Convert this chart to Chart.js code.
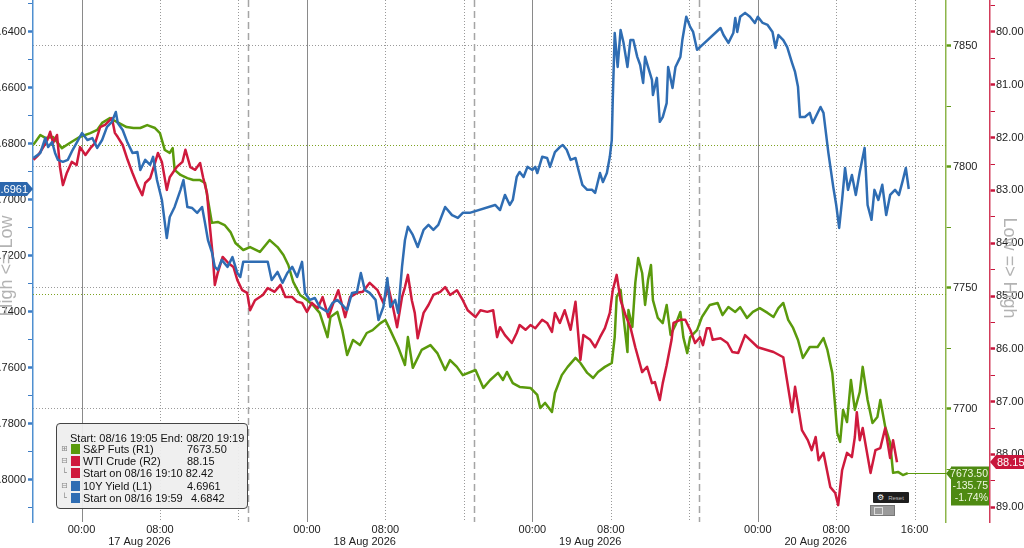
<!DOCTYPE html>
<html>
<head>
<meta charset="utf-8">
<script src="https://cdn.jsdelivr.net/npm/chart.js@4.4.1/dist/chart.umd.min.js"></script>
<style>
  html, body { margin: 0; padding: 0; width: 1024px; height: 548px; overflow: hidden; background: #fff; }
  body { font-family: "Liberation Sans", Arial, sans-serif; position: relative; }
  #wrap { position: absolute; left: -14px; top: 0; width: 1038px; height: 548px; }
  #legend { position: absolute; left: 56px; top: 423px; width: 190px; height: 84px;
    background: rgba(238, 238, 238, 0.94); border: 1px solid #444; border-radius: 4px;
    font-size: 11px; color: #111; }
  #legend div { position: absolute; white-space: nowrap; line-height: 12px; height: 12px; }
  #legend .sw { width: 9px; height: 10px; }
  #legend .tr { font-family: "DejaVu Sans", sans-serif; font-size: 8px; color: #888; }
  #reset { position: absolute; left: 873px; top: 492px; width: 36px; height: 11px; background: #1e1e1e;
    color: #bbb; font-size: 6px; line-height: 11px; border-radius: 1px; }
  #reset span { font-family: "DejaVu Sans", sans-serif; color: #fff; font-size: 8px; margin: 0 4px 0 4px; }
  #zoomsel { position: absolute; left: 870px; top: 505px; width: 23px; height: 9px; background: #9a9a9a;
    border: 1px solid #777; }
  #zoomsel div { position: absolute; left: 3px; top: 1px; width: 7px; height: 6px; border: 1px solid #ddd; }
</style>
</head>
<body>
<div id="wrap"><canvas id="chart"></canvas></div>

<div id="legend">
  <div style="left:13px;top:8px;">Start: 08/16 19:05 End: 08/20 19:19</div>
  <div class="tr" style="left:4px;top:19px;">⊞</div>
  <div class="sw" style="left:14px;top:20px;background:#5a9a0c;"></div>
  <div style="left:26px;top:19px;">S&amp;P Futs (R1)</div>
  <div style="left:130px;top:19px;">7673.50</div>
  <div class="tr" style="left:4px;top:31px;">⊟</div>
  <div class="sw" style="left:14px;top:32px;background:#cf1a3d;"></div>
  <div style="left:26px;top:31px;">WTI Crude (R2)</div>
  <div style="left:130px;top:31px;">88.15</div>
  <div class="tr" style="left:5px;top:43px;">└</div>
  <div class="sw" style="left:14px;top:44px;background:#cf1a3d;"></div>
  <div style="left:26px;top:43px;">Start on 08/16 19:10 82.42</div>
  <div class="tr" style="left:4px;top:56px;">⊟</div>
  <div class="sw" style="left:14px;top:57px;background:#2f6db3;"></div>
  <div style="left:26px;top:56px;">10Y Yield (L1)</div>
  <div style="left:130px;top:56px;">4.6961</div>
  <div class="tr" style="left:5px;top:68px;">└</div>
  <div class="sw" style="left:14px;top:69px;background:#2f6db3;"></div>
  <div style="left:26px;top:68px;">Start on 08/16 19:59</div>
  <div style="left:134px;top:68px;">4.6842</div>
</div>
<div id="reset"><span>⚙</span>Reset</div>
<div id="zoomsel"><div></div></div>

<script>
// time axis is in trading hours since 00:00 17 Aug, with the 17:00-18:00 break removed (23 h per day)
const xMin = -4.95;
const xMax = 88.2;

const xTickPos = [0, 5.9, 8, 23, 28.9, 31, 46, 51.9, 54, 69, 74.9, 77, 85];
const xTickLabels = ['00:00', ['', '17 Aug 2026'], '08:00', '00:00', ['', '18 Aug 2026'], '08:00',
  '00:00', ['', '19 Aug 2026'], '08:00', '00:00', ['', '20 Aug 2026'], '08:00', '16:00'];

const dayLines = [0, 23, 46, 69];
const hourLines = [8, 16, 31, 39, 54, 62, 77, 85];
const breakLines = [17, 40, 63];

const yieldTicks = [4.64, 4.66, 4.68, 4.70, 4.72, 4.74, 4.76, 4.78, 4.80];
const yieldMinor = [4.63, 4.65, 4.67, 4.69, 4.71, 4.73, 4.75, 4.77, 4.79, 4.81];
const spTicks = [7700, 7750, 7800, 7850];
const spMinor = [7675, 7725, 7775, 7825];
const wtiTicks = [80, 81, 82, 83, 84, 85, 86, 87, 88, 89];
const wtiMinor = [79.5, 80.5, 81.5, 82.5, 83.5, 84.5, 85.5, 86.5, 87.5, 88.5];

const spRefLines = [7809.25, 7747.5];

// S&P Futs (R1)
const spTime = [
  -4.9, -4.2, -3.7, -2.9, -2.0, -1.2, -0.2, 0.9, 1.6, 2.1,
  2.9, 3.6, 4.6, 5.3, 6.0, 6.7, 7.5, 8.0, 8.5, 9.0,
  9.3, 9.5, 10.1, 10.8, 11.4, 12.1, 12.6, 12.9, 13.3, 13.9,
  14.6, 15.2, 15.7, 16.5, 17.2, 18.2, 19.2, 20.0, 20.6, 21.1,
  21.6, 22.3, 23.0, 23.6, 24.3, 25.1, 25.4, 26.1, 26.6, 27.1,
  27.7, 28.4, 29.1, 29.7, 30.5, 31.0, 31.5, 32.3, 33.0, 33.3,
  33.8, 34.7, 35.6, 36.3, 37.1, 37.6, 38.3, 38.9, 40.2, 41.0,
  41.7, 42.5, 43.0, 43.4, 44.0, 44.7, 45.8, 46.5, 46.8, 47.3,
  48.0, 48.3, 49.0, 49.6, 50.4, 50.9, 51.6, 52.2, 52.7, 53.4,
  54.1, 54.4, 54.6, 55.0, 55.3, 55.7, 55.8, 56.2, 56.5, 56.8,
  57.2, 57.5, 57.8, 58.1, 58.3, 58.8, 59.3, 59.7, 60.1, 60.6,
  61.1, 61.4, 61.8, 62.1, 62.8, 63.3, 64.1, 64.9, 65.4, 66.0,
  66.7, 67.2, 67.9, 68.5, 69.2, 70.0, 70.6, 71.1, 71.6, 72.1,
  72.6, 73.1, 73.6, 74.3, 75.1, 75.7, 76.1, 76.6, 76.9, 77.1,
  77.4, 77.7, 78.1, 78.5, 78.9, 79.4, 79.7, 80.2, 80.7, 81.2,
  81.5, 82.0, 82.5, 82.8, 83.3, 83.8, 84.3
];
const spValues = [
  7809.25, 7813.2, 7812, 7812.4, 7807.8, 7809.9, 7812.4, 7814, 7815.3, 7818.2,
  7820.2, 7818.6, 7816.5, 7816.1, 7816.1, 7817.3, 7816.1, 7814, 7807, 7805.8,
  7807.8, 7798.8, 7796.7, 7795.4, 7794.6, 7794.6, 7793.4, 7786.4, 7776.9, 7777.3,
  7776, 7773.1, 7768.6, 7765.7, 7766.9, 7764.9, 7769.8, 7766.9, 7763.6, 7759.5,
  7752.5, 7747.1, 7745, 7743, 7739.7, 7729.7, 7738, 7740.1, 7732.6, 7722.3,
  7728.5, 7726.4, 7731.4, 7732.6, 7735.5, 7736.8, 7732.6, 7725.6, 7718.2, 7729.7,
  7717, 7724.4, 7726.4, 7723.1, 7716.1, 7720.2, 7717.4, 7714, 7716.1, 7708.7,
  7712, 7714.9, 7712, 7715.3, 7710.7, 7709.1, 7708.7, 7705.8, 7700.4, 7702.5,
  7698.8, 7706.6, 7714, 7717.4, 7721.1, 7719, 7714.9, 7712.8, 7715.3, 7717.4,
  7719, 7729.7, 7746.3, 7749.2, 7738, 7723.5, 7740.9, 7733.9, 7752.1, 7762.4,
  7756.2, 7743, 7753.3, 7759.5, 7745, 7737.6, 7735.5, 7743, 7730.6, 7734.7,
  7740.1, 7729.7, 7723.1, 7729.7, 7732.6, 7738, 7743, 7743.8, 7738.8, 7742.1,
  7740.1, 7742.1, 7737.6, 7740.1, 7741.7, 7739.7, 7738, 7741.7, 7743.8, 7736.8,
  7733.5, 7728.5, 7721.1, 7725.6, 7725.6, 7729.3, 7724.4, 7714.9, 7700.8, 7690.1,
  7686.4, 7699.6, 7694.6, 7712, 7699.6, 7707, 7717.4, 7703.7, 7694.2, 7696.7,
  7703.7, 7692.6, 7686, 7673.6, 7674, 7672.7, 7673.5
];

// WTI Crude (R2)
const wtiTime = [
  -4.9, -4.4, -3.9, -3.5, -3.2, -2.9, -2.5, -2.2, -1.9, -1.5,
  -1.0, -0.5, -0.15, 0.4, 0.9, 1.4, 1.9, 2.4, 3.1, 3.4,
  3.7, 4.2, 4.7, 5.2, 5.7, 6.2, 6.5, 7.0, 7.5, 7.8,
  8.2, 8.7, 9.0, 9.7, 10.3, 10.6, 11.1, 11.6, 12.1, 12.4,
  12.8, 13.1, 13.4, 13.6, 13.9, 14.4, 15.0, 15.5, 15.9, 16.4,
  16.9, 17.2, 17.7, 18.5, 19.0, 19.7, 20.3, 20.8, 21.5, 22.0,
  22.5, 23.0, 23.5, 24.1, 24.6, 25.2, 25.7, 26.2, 26.9, 27.4,
  28.1, 28.7, 29.4, 30.2, 30.8, 31.3, 31.8, 32.2, 32.7, 33.0,
  33.3, 33.7, 34.0, 34.3, 34.9, 35.4, 35.9, 36.6, 37.1, 37.6,
  38.3, 38.9, 39.4, 40.2, 40.7, 41.4, 42.0, 42.4, 42.7, 43.2,
  43.9, 44.4, 44.7, 45.3, 45.8, 46.3, 47.0, 47.5, 48.0, 48.3,
  48.8, 49.3, 49.9, 50.4, 50.9, 51.2, 51.9, 52.4, 52.9, 53.4,
  53.9, 54.2, 54.6, 55.0, 55.5, 56.0, 56.5, 57.2, 57.7, 58.2,
  58.5, 59.0, 59.3, 59.7, 60.2, 60.4, 61.1, 61.6, 62.1, 62.6,
  63.1, 63.4, 63.8, 64.1, 64.4, 65.2, 65.9, 66.4, 67.0, 67.7,
  69.0, 70.6, 71.6, 72.5, 72.8, 73.5, 74.1, 74.5, 74.9, 75.2,
  75.7, 76.4, 76.9, 77.2, 77.6, 78.1, 78.6, 78.9, 79.1, 79.4,
  79.7, 80.5, 81.0, 81.5, 82.0, 82.5, 82.8, 83.2
];
const wtiValues = [
  82.42, 82.33, 82.18, 82.05, 81.89, 82.10, 81.95, 82.56, 82.90, 82.67,
  82.46, 82.52, 82.18, 82.33, 82.20, 82.10, 81.80, 81.76, 81.63, 81.91,
  81.99, 82.14, 82.42, 82.67, 82.90, 83.09, 82.86, 82.77, 82.48, 82.29,
  82.46, 82.99, 82.75, 82.56, 82.46, 82.23, 82.56, 82.61, 82.48, 82.75,
  83.05, 83.69, 84.26, 84.79, 84.56, 84.26, 84.38, 84.45, 84.70, 84.89,
  84.94, 85.27, 85.08, 84.98, 84.85, 84.92, 84.79, 85.02, 85.02, 85.11,
  85.13, 85.30, 85.13, 85.23, 85.02, 85.40, 85.13, 84.89, 85.40, 85.02,
  84.94, 84.92, 84.75, 84.89, 85.13, 84.83, 85.23, 85.59, 85.02, 84.83,
  84.60, 85.08, 85.32, 85.80, 85.32, 85.17, 84.98, 84.92, 84.83, 84.98,
  84.89, 85.08, 85.27, 85.40, 85.27, 85.30, 85.27, 85.78, 85.59, 85.74,
  85.89, 85.70, 85.55, 85.64, 85.55, 85.61, 85.45, 85.51, 85.68, 85.32,
  85.51, 85.27, 85.64, 85.11, 86.21, 85.74, 85.83, 85.97, 85.78, 85.61,
  85.32, 84.89, 84.60, 85.08, 85.36, 85.59, 85.97, 86.44, 86.34, 86.65,
  86.63, 86.97, 86.65, 86.31, 85.83, 85.51, 85.45, 85.45, 85.64, 85.89,
  85.78, 85.93, 85.61, 85.61, 85.83, 85.80, 85.89, 86.06, 86.08, 85.74,
  85.97, 86.06, 86.16, 87.20, 86.72, 87.54, 87.73, 87.92, 87.67, 88.11,
  87.97, 88.62, 88.73, 88.96, 88.30, 87.97, 88.05, 87.67, 87.20, 87.73,
  87.50, 88.35, 87.92, 87.88, 87.50, 88.07, 87.73, 88.15
];

// 10Y Yield (L1)
const yieldTime = [
  -4.9, -4.2, -3.7, -3.4, -3.0, -2.7, -2.4, -1.9, -1.4, -0.9,
  -0.5, 0.05, 0.6, 1.1, 1.6, 2.1, 2.6, 3.1, 3.5, 3.7,
  4.2, 4.7, 5.2, 5.7, 6.0, 6.5, 7.0, 7.3, 7.7, 8.2,
  8.7, 9.0, 9.5, 10.1, 10.4, 10.8, 11.3, 11.8, 12.3, 12.6,
  12.9, 13.3, 13.6, 13.9, 14.3, 14.9, 15.4, 15.9, 16.2, 16.5,
  19.0, 19.4, 20.0, 20.5, 21.0, 21.5, 22.0, 22.5, 22.8, 23.3,
  23.8, 24.3, 25.1, 25.6, 26.1, 26.6, 27.1, 27.6, 28.1, 28.5,
  28.9, 29.4, 30.0, 30.3, 30.8, 31.2, 31.5, 32.0, 32.3, 32.7,
  33.0, 33.3, 33.8, 34.3, 34.9, 35.4, 35.9, 36.4, 37.1, 37.8,
  38.4, 38.9, 39.6, 42.2, 42.7, 43.2, 43.7, 44.0, 44.4, 44.7,
  45.1, 45.5, 46.0, 46.3, 46.5, 47.0, 47.5, 47.8, 48.3, 48.8,
  49.1, 49.5, 49.9, 50.4, 50.7, 51.1, 51.6, 52.1, 52.4, 52.9,
  53.2, 53.6, 53.9, 54.1, 54.2, 54.4, 54.7, 55.0, 55.3, 55.7,
  56.0, 56.3, 56.7, 57.0, 57.3, 57.5, 57.8, 58.2, 58.3, 58.7,
  59.0, 59.3, 59.7, 59.85, 60.3, 60.6, 61.1, 61.3, 61.7, 62.1,
  62.4, 62.8, 65.2, 65.5, 66.0, 66.5, 66.7, 66.9, 67.2, 67.7,
  68.2, 68.7, 69.0, 69.5, 70.0, 70.5, 70.8, 71.1, 71.6, 72.0,
  72.5, 72.8, 73.1, 73.3, 73.8, 74.3, 74.6, 75.4, 75.7, 76.2,
  76.7, 77.0, 77.3, 77.6, 77.9, 78.2, 78.6, 79.0, 79.4, 79.9,
  80.2, 80.6, 80.9, 81.3, 81.7, 82.1, 82.5, 83.0, 83.4, 83.8,
  84.1, 84.4
];
const yieldValues = [
  4.6850, 4.6832, 4.6779, 4.6811, 4.6793, 4.6832, 4.6857, 4.6864, 4.6857, 4.6821,
  4.6796, 4.6761, 4.6786, 4.6779, 4.6814, 4.6786, 4.6739, 4.6721, 4.6686, 4.6725,
  4.6750, 4.6796, 4.6832, 4.6829, 4.6893, 4.6857, 4.6875, 4.6846, 4.6929, 4.7000,
  4.7136, 4.7061, 4.7025, 4.6964, 4.6929, 4.7025, 4.7029, 4.7046, 4.7025, 4.7082,
  4.7143, 4.7186, 4.7239, 4.7250, 4.7214, 4.7239, 4.7204, 4.7261, 4.7275, 4.7221,
  4.7221, 4.7286, 4.7257, 4.7296, 4.7261, 4.7239, 4.7275, 4.7221, 4.7332, 4.7357,
  4.7350, 4.7382, 4.7400, 4.7368, 4.7357, 4.7375, 4.7393, 4.7332, 4.7329, 4.7261,
  4.7321, 4.7332, 4.7357, 4.7429, 4.7382, 4.7279, 4.7382, 4.7357, 4.7404, 4.7239,
  4.7143, 4.7096, 4.7125, 4.7168, 4.7107, 4.7089, 4.7107, 4.7089, 4.7025, 4.7054,
  4.7064, 4.7046, 4.7046, 4.7018, 4.7036, 4.6982, 4.7018, 4.7000, 4.6918, 4.6900,
  4.6918, 4.6882, 4.6893, 4.6882, 4.6904, 4.6846, 4.6850, 4.6882, 4.6829, 4.6811,
  4.6804, 4.6821, 4.6857, 4.6850, 4.6893, 4.6946, 4.6964, 4.6964, 4.6975, 4.6904,
  4.6936, 4.6904, 4.6846, 4.6786, 4.6643, 4.6404, 4.6525, 4.6393, 4.6439, 4.6525,
  4.6429, 4.6429, 4.6489, 4.6518, 4.6582, 4.6489, 4.6525, 4.6571, 4.6625, 4.6564,
  4.6721, 4.6704, 4.6654, 4.6525, 4.6600, 4.6525, 4.6489, 4.6429, 4.6346, 4.6382,
  4.6400, 4.6464, 4.6386, 4.6411, 4.6439, 4.6404, 4.6350, 4.6400, 4.6346, 4.6332,
  4.6346, 4.6368, 4.6346, 4.6368, 4.6375, 4.6400, 4.6457, 4.6411, 4.6429, 4.6454,
  4.6511, 4.6543, 4.6596, 4.6704, 4.6704, 4.6689, 4.6725, 4.6668, 4.6689, 4.6832,
  4.6954, 4.7018, 4.7100, 4.7000, 4.6886, 4.6964, 4.6911, 4.6982, 4.6900, 4.6814,
  4.7018, 4.7071, 4.6964, 4.7000, 4.6946, 4.7054, 4.6982, 4.6964, 4.6982, 4.6929,
  4.6886, 4.6961
];

const spLast = '7673.50', spChange = '-135.75', spPct = '-1.74%';
const wtiLast = '88.15';
const yieldLast = '4.6961';

const colGreen = '#5a9a0c';
const colRed = '#cf1a3d';
const colBlue = '#2f6db3';
const fontName = "'Liberation Sans', Arial, sans-serif";

const pts = (ts, vs) => ts.map((t, i) => ({ x: t, y: vs[i] }));

function buildTicks(major, minor) {
  return major.map(v => ({ value: v, m: true }))
    .concat(minor.map(v => ({ value: v, m: false })))
    .sort((a, b) => a.value - b.value);
}

function fitY(width) {
  return scale => {
    scale.width = width;
    scale.paddingTop = 0;
    scale.paddingBottom = 0;
  };
}

function drawTag(ctx, pts, fill) {
  ctx.fillStyle = fill;
  ctx.beginPath();
  ctx.moveTo(pts[0][0], pts[0][1]);
  for (let i = 1; i < pts.length; i++) ctx.lineTo(pts[i][0], pts[i][1]);
  ctx.closePath();
  ctx.fill();
}

const overlay = {
  id: 'overlay',
  beforeDatasetsDraw(chart) {
    const { ctx, chartArea: a, scales } = chart;
    const xs = scales.x;
    ctx.save();
    const vline = (t, color, w, dash) => {
      const px = Math.round(xs.getPixelForValue(t)) + 0.5;
      ctx.strokeStyle = color;
      ctx.lineWidth = w;
      ctx.setLineDash(dash);
      ctx.beginPath();
      ctx.moveTo(px, a.top);
      ctx.lineTo(px, a.bottom);
      ctx.stroke();
    };
    dayLines.forEach(t => vline(t, '#8a8a8a', 1, []));
    hourLines.forEach(t => vline(t, '#999', 1, [1, 2]));
    breakLines.forEach(t => vline(t, '#a5a5a5', 1.5, [7, 4]));

    spRefLines.forEach(v => {
      const py = Math.round(scales.ySP.getPixelForValue(v)) + 0.5;
      ctx.strokeStyle = '#7da323';
      ctx.lineWidth = 1;
      ctx.setLineDash([1, 2]);
      ctx.beginPath();
      ctx.moveTo(a.left, py);
      ctx.lineTo(a.right, py);
      ctx.stroke();
    });
    ctx.restore();
  },
  afterDraw(chart) {
    const { ctx, scales, width } = chart;
    ctx.save();

    // last value line for S&P
    const spY = Math.round(scales.ySP.getPixelForValue(spValues[spValues.length - 1])) + 0.5;
    const spX = scales.x.getPixelForValue(spTime[spTime.length - 1]);
    const gTip = scales.ySP.left;
    ctx.strokeStyle = colGreen;
    ctx.lineWidth = 1;
    ctx.beginPath();
    ctx.moveTo(spX, spY);
    ctx.lineTo(gTip, spY);
    ctx.stroke();

    ctx.font = '10.5px ' + fontName;
    ctx.textBaseline = 'middle';

    // S&P tag
    drawTag(ctx, [[gTip, spY], [gTip + 5, spY - 6], [gTip + 5, spY - 7], [gTip + 43, spY - 7],
      [gTip + 43, spY + 32], [gTip + 5, spY + 32], [gTip + 5, spY + 6]], '#4e8a12');
    ctx.fillStyle = '#eef7de';
    ctx.textAlign = 'right';
    ctx.fillText(spLast, gTip + 42, spY + 1);
    ctx.fillText(spChange, gTip + 42, spY + 13);
    ctx.fillText(spPct, gTip + 42, spY + 25);

    ctx.font = '11px ' + fontName;
    // WTI tag
    const wY = Math.round(scales.yW.getPixelForValue(wtiValues[wtiValues.length - 1]));
    const rTip = scales.yW.left;
    drawTag(ctx, [[rTip, wY], [rTip + 6, wY - 7], [width, wY - 7], [width, wY + 7], [rTip + 6, wY + 7]], '#c8163c');
    ctx.fillStyle = '#fff';
    ctx.textAlign = 'left';
    ctx.fillText(wtiLast, rTip + 7, wY + 1);

    // yield tag
    const bY = Math.round(scales.yL.getPixelForValue(yieldValues[yieldValues.length - 1]));
    const bTip = scales.yL.right;
    drawTag(ctx, [[0, bY - 7], [bTip - 6, bY - 7], [bTip, bY], [bTip - 6, bY + 7], [0, bY + 7]], '#2c67ad');
    ctx.fillStyle = '#fff';
    ctx.textAlign = 'right';
    ctx.fillText(yieldLast, bTip - 5, bY + 1);

    // inverted-axis captions
    ctx.font = '18px ' + fontName;
    ctx.fillStyle = '#b3b3b3';
    ctx.textAlign = 'center';
    ctx.save();
    ctx.translate(width - 15, 268);
    ctx.rotate(Math.PI / 2);
    ctx.fillText('Low => High', 0, 0);
    ctx.restore();
    ctx.save();
    ctx.translate(21, 266);
    ctx.rotate(-Math.PI / 2);
    ctx.fillText('High <= Low', 0, 0);
    ctx.restore();

    ctx.restore();
  }
};

const tickFont = { family: fontName, size: 11 };

new Chart(document.getElementById('chart'), {
  type: 'line',
  data: {
    datasets: [
      { label: '10Y Yield (L1)', data: pts(yieldTime, yieldValues), yAxisID: 'yL',
        borderColor: colBlue, borderWidth: 2.5 },
      { label: 'WTI Crude (R2)', data: pts(wtiTime, wtiValues), yAxisID: 'yW',
        borderColor: colRed, borderWidth: 2.5 },
      { label: 'S&P Futs (R1)', data: pts(spTime, spValues), yAxisID: 'ySP',
        borderColor: colGreen, borderWidth: 2.5 }
    ]
  },
  options: {
    responsive: true,
    maintainAspectRatio: false,
    animation: false,
    layout: { padding: 0 },
    elements: { point: { radius: 0 }, line: { tension: 0, borderJoinStyle: 'round' } },
    plugins: { legend: { display: false }, tooltip: { enabled: false } },
    scales: {
      x: {
        type: 'linear', min: xMin, max: xMax,
        grid: { display: false, drawTicks: false },
        border: { display: false },
        afterBuildTicks: s => { s.ticks = xTickPos.map(v => ({ value: v })); },
        afterFit: s => { s.height = 26; s.paddingLeft = 0; s.paddingRight = 0; },
        ticks: {
          autoSkip: false, maxRotation: 0, padding: 2, color: '#222',
          font: { family: fontName, size: 11, lineHeight: 1.1 },
          callback: (v, i) => xTickLabels[i]
        }
      },
      yL: {
        position: 'left', reverse: true, min: 4.6286, max: 4.815,
        afterBuildTicks: s => { s.ticks = buildTicks(yieldTicks, yieldMinor); },
        afterFit: fitY(47),
        border: { color: '#4f8fd0', width: 1.5 },
        grid: { drawOnChartArea: false, tickLength: 5, tickColor: '#3d7cc4',
          tickWidth: c => (c.tick && c.tick.m ? 2.5 : 1) },
        ticks: { padding: 2, color: '#222', font: tickFont,
          callback: (v, i, t) => (t[i].m ? v.toFixed(4) : '') }
      },
      ySP: {
        position: 'right', weight: 0, min: 7653.3, max: 7869.0,
        afterBuildTicks: s => { s.ticks = buildTicks(spTicks, spMinor); },
        afterFit: fitY(44),
        border: { color: '#8db54a', width: 1.5, dash: [1, 2] },
        grid: { tickLength: 5, tickColor: '#5e9a14',
          color: c => (c.tick && c.tick.m ? '#9a9a9a' : 'rgba(0,0,0,0)'),
          tickWidth: c => (c.tick && c.tick.m ? 2.5 : 1) },
        ticks: { padding: 2, color: '#222', font: tickFont,
          callback: (v, i, t) => (t[i].m ? String(v) : '') }
      },
      yW: {
        position: 'right', weight: 1, reverse: true, min: 79.394, max: 89.28,
        afterBuildTicks: s => { s.ticks = buildTicks(wtiTicks, wtiMinor); },
        afterFit: fitY(34),
        border: { color: '#d23c5a', width: 1.5 },
        grid: { drawOnChartArea: false, tickLength: 5, tickColor: '#c8163c',
          tickWidth: c => (c.tick && c.tick.m ? 2.5 : 1) },
        ticks: { padding: 1, color: '#222', font: tickFont,
          callback: (v, i, t) => (t[i].m ? v.toFixed(2) : '') }
      }
    }
  },
  plugins: [overlay]
});
</script>
</body>
</html>
